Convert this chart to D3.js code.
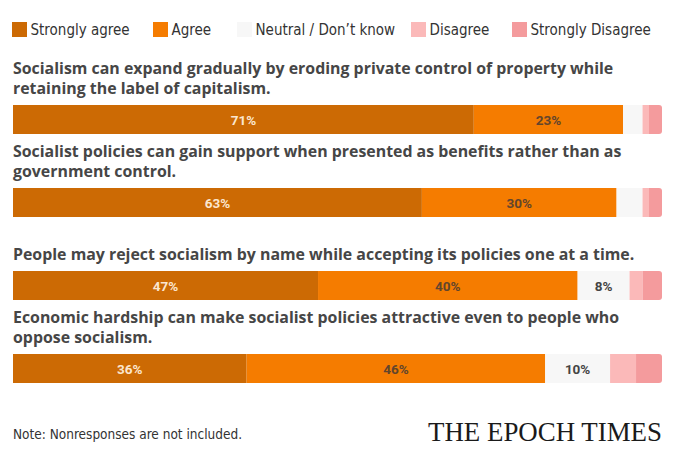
<!DOCTYPE html>
<html>
<head>
<meta charset="utf-8">
<script src="https://cdn.jsdelivr.net/npm/d3@7"></script>
<style>
  html, body { margin: 0; padding: 0; background: #fff; }
  svg { display: block; }
</style>
</head>
<body>
<svg id="chart" width="678" height="449"></svg>
<script>
// ---- Data ----
const categories = ["Strongly agree", "Agree", "Neutral / Don\u2019t know", "Disagree", "Strongly Disagree"];
const colors = ["#cc6a04", "#f57c00", "#f7f7f7", "#fbb9b9", "#f49b9d"];
const labelColors = ["#fbe6cf", "#62452c", "#444444", "#444444", "#444444"];
const questions = [
  ["Socialism can expand gradually by eroding private control of property while", "retaining the label of capitalism."],
  ["Socialist policies can gain support when presented as benefits rather than as", "government control."],
  ["People may reject socialism by name while accepting its policies one at a time."],
  ["Economic hardship can make socialist policies attractive even to people who", "oppose socialism."]
];
const stronglyAgree = [71, 63, 47, 36];
const agree = [23, 30, 40, 46];
const neutral = [3, 4, 8, 10];
const disagree = [1, 1, 2, 4];
const stronglyDisagree = [2, 2, 3, 4];
const noteText = "Note: Nonresponses are not included.";
const logoText = "THE EPOCH TIMES";

// ---- Layout ----
const svg = d3.select("#chart");
const barLeft = 13, barRight = 662, barH = 29;
const x = d3.scaleLinear().domain([0, 100]).range([barLeft, barRight]);
const y = d3.scaleBand().domain(d3.range(questions.length)).range([105, 105 + 83 * 4]).paddingInner(0);

const condensed = "'DejaVu Sans Condensed', 'Liberation Sans Narrow', 'Roboto', sans-serif";
const titleFont = "'Open Sans', 'Roboto', sans-serif";
const labelFont = "'Roboto', sans-serif";

// Legend
const legendX = [12, 153, 237, 411, 512];
const legend = svg.append("g");
categories.forEach((c, i) => {
  legend.append("rect").attr("x", legendX[i]).attr("y", 22).attr("width", 15).attr("height", 15).attr("fill", colors[i]);
  legend.append("text").attr("x", legendX[i] + 18.5).attr("y", 34.5)
    .attr("font-family", condensed).attr("font-size", 15).attr("fill", "#333")
    .text(c);
});

const series = [stronglyAgree, agree, neutral, disagree, stronglyDisagree];
const defs = svg.append("defs");

questions.forEach((lines, qi) => {
  const top = y(qi);
  const g = svg.append("g");
  lines.forEach((ln, li) => {
    const base = top - 11 - (lines.length - 1 - li) * 20;
    g.append("text").attr("x", 13).attr("y", base)
      .attr("font-family", titleFont).attr("font-weight", 700).attr("font-size", 15.9)
      .attr("fill", "#464646").text(ln);
  });
  const r = 3;
  const p = `M${x(0)},${top} H${x(100) - r} Q${x(100)},${top} ${x(100)},${top + r} V${top + barH - r} Q${x(100)},${top + barH} ${x(100) - r},${top + barH} H${x(0)} Z`;
  defs.append("clipPath").attr("id", "clip" + qi).append("path").attr("d", p);
  const bg = g.append("g").attr("clip-path", `url(#clip${qi})`);
  let cum = 0;
  series.forEach((s, si) => {
    const v = s[qi];
    bg.append("rect").attr("x", x(cum)).attr("y", top)
      .attr("width", x(cum + v) - x(cum)).attr("height", barH)
      .attr("fill", colors[si]);
    if (v >= 5) {
      g.append("text").attr("x", (x(cum) + x(cum + v)) / 2).attr("y", top + barH / 2 + 5)
        .attr("text-anchor", "middle")
        .attr("font-family", labelFont).attr("font-weight", 700).attr("font-size", 13.5)
        .attr("fill", labelColors[si]).text(v + "%");
    }
    cum += v;
  });
});

// Footer
svg.append("text").attr("x", 13).attr("y", 439)
  .attr("font-family", condensed).attr("font-size", 13.5).attr("fill", "#333").text(noteText);
svg.append("text").attr("x", 662).attr("y", 441).attr("text-anchor", "end")
  .attr("font-family", "'Liberation Serif', 'DejaVu Serif', serif").attr("font-size", 28)
  .attr("fill", "#1a1a1a").attr("textLength", 234).attr("lengthAdjust", "spacingAndGlyphs").text(logoText);
</script>
</body>
</html>
